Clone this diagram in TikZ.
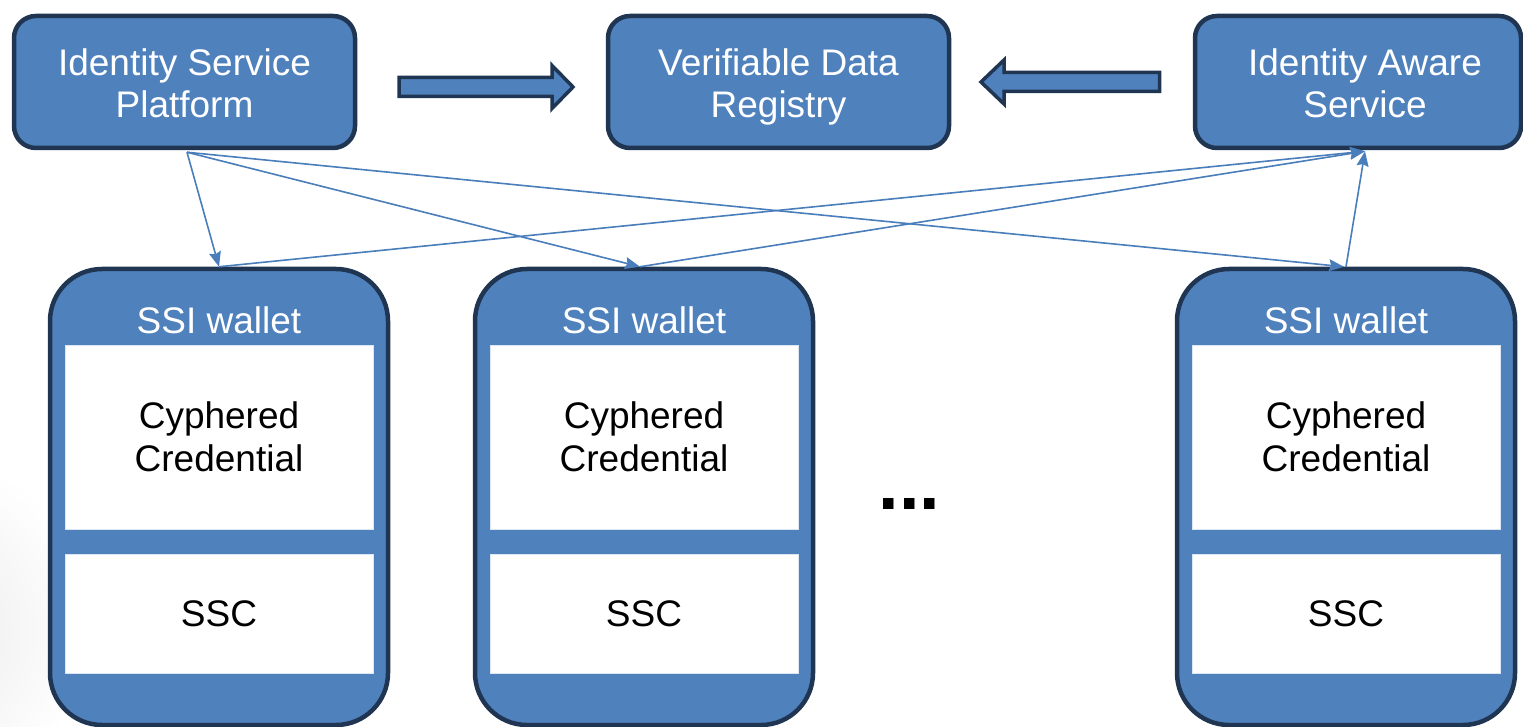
\documentclass[tikz,border=0pt]{standalone}
\usepackage{fontspec}
\setmainfont{Liberation Sans}
\usetikzlibrary{arrows.meta}

\definecolor{boxblue}{HTML}{4F81BD}
\definecolor{edgenavy}{HTML}{1F3552}
\definecolor{linkblue}{HTML}{4A7EBB}

\tikzset{
  bigtext/.style={font=\fontsize{37}{42.5}\selectfont, align=center},
  topbox/.style={draw=edgenavy, fill=boxblue, line width=4.5pt, rounded corners=22pt,
                 minimum height=132pt, inner sep=0pt},
  toplabel/.style={text=white, bigtext, inner sep=0pt},
  wallet/.style={draw=edgenavy, fill=boxblue, line width=4.5pt, rounded corners=52pt,
                 minimum width=338pt, minimum height=456pt, inner sep=0pt},
  slot/.style={fill=white, draw=white!80!boxblue, line width=0.6pt,
               minimum width=308pt, inner sep=0pt, text=black, bigtext},
  wallettitle/.style={text=white, bigtext, inner sep=0pt},
  link/.style={draw=linkblue, line width=1.6pt,
               -{Stealth[length=15pt,width=12pt,inset=2pt]}},
  blockarrow/.style={draw=edgenavy, fill=boxblue, line width=3.5pt, line join=miter},
}

\begin{document}
\begin{tikzpicture}[x=1pt, y=-1pt]
  \useasboundingbox (0,0) rectangle (1523,727);

  % soft grey backdrop in the lower-left corner
  \shade[inner color=black!9, outer color=white] (-95,630) circle (185);

  % top row: boxes, then their two-line labels (struts keep the lines level)
  \node[topbox, minimum width=341pt] (isp) at (184.5,82) {};
  \node[topbox, minimum width=341pt] (vdr) at (778.5,82) {};
  \node[topbox, minimum width=326pt] (ias) at (1358,82) {};
  \node[toplabel] (isplabel) at (184.5,88) {\strut Identity Service\\Platform\strut};
  \node[toplabel] (vdrlabel) at (778.5,88) {\strut Verifiable Data\\Registry\strut};
  \node[toplabel] (iaslabel) at (1365,88) {\strut Identity Aware\\Service\strut};

  % block arrows towards the registry
  \draw[blockarrow] (399,77.5) -- (552,77.5) -- (552,65.5) -- (573,87) -- (552,108.5)
        -- (552,96.5) -- (399,96.5) -- cycle;
  \draw[blockarrow] (1159.5,72.5) -- (1004,72.5) -- (1004,60) -- (981,82) -- (1004,104)
        -- (1004,91.5) -- (1159.5,91.5) -- cycle;

  % wallets
  \foreach \name/\cx in {w1/219, w2/644, w3/1346}{
    \node[wallet] (\name) at (\cx,497) {};
    \node[wallettitle] (\name title) at (\cx,320) {SSI wallet};
    \node[slot, minimum height=184pt] (\name cred) at (\cx,437) {Cyphered\\Credential};
    \node[slot, minimum height=119pt] (\name ssc) at (\cx,613.5) {SSC};
  }

  % ellipsis between the wallets
  \node[font=\bfseries\fontsize{74}{74}\selectfont, anchor=base, inner sep=0pt]
        (more) at (909.5,509) {...};

  % links
  \coordinate (ispout) at ([xshift=2.5pt,yshift=-2pt]isp.south);
  \coordinate (iasin) at ([xshift=7pt,yshift=-1pt]ias.south);

  \draw[link] (ispout) -- (w1.north);
  \draw[link] (ispout) -- ([xshift=-4pt]w2.north);
  \draw[link] (ispout) -- ([xshift=-2pt]w3.north);

  \draw[link] (w1.north) -- (iasin);
  \draw[link] ([xshift=-4pt]w2.north) -- (iasin);
  \draw[link] (w3.north) -- (iasin);
\end{tikzpicture}
\end{document}
